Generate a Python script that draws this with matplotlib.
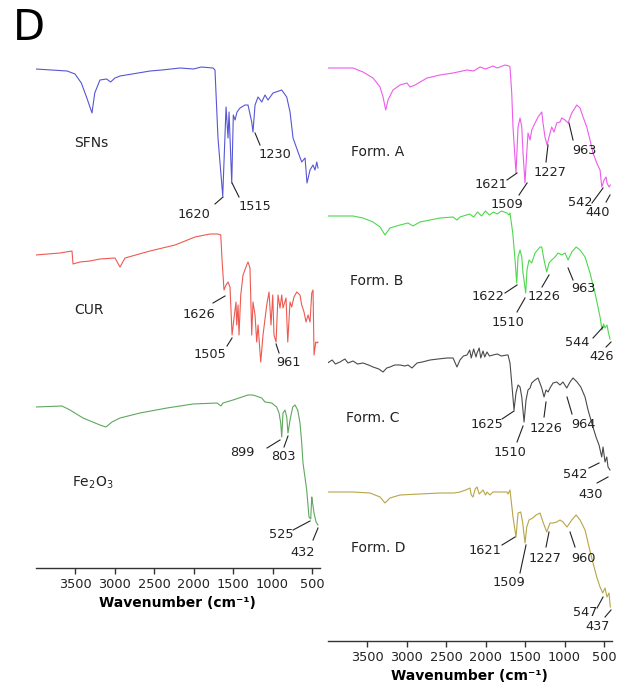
import matplotlib
matplotlib.use("Agg")
import matplotlib.pyplot as plt
import numpy as np

# FTIR spectra, (wavenumber cm-1, offset intensity a.u.)
sfns = [(4000, 499), (3800, 498), (3600, 497), (3500, 494), (3420, 485), (3350, 470), (3285, 455),
        (3250, 475), (3184, 488), (3100, 489), (3050, 486), (2994, 490), (2930, 492), (2700, 495),
        (2550, 497), (2400, 498), (2171, 500), (2000, 499), (1900, 501), (1753, 500), (1728, 498),
        (1690, 430), (1630, 372), (1588, 461), (1563, 430), (1550, 456), (1516, 385), (1496, 453),
        (1474, 448), (1449, 456), (1411, 460), (1348, 463), (1310, 463), (1263, 446), (1247, 436),
        (1221, 463), (1183, 471), (1136, 466), (1095, 473), (1057, 468), (993, 475), (883, 478),
        (820, 471), (778, 456), (740, 430), (677, 416), (630, 406), (588, 410), (563, 385),
        (525, 398), (487, 403), (462, 398), (440, 406), (424, 400)]

cur = [(4000, 313), (3690, 315), (3538, 317), (3525, 304), (3437, 306), (3310, 307), (3184, 309),
       (2994, 310), (2930, 301), (2867, 310), (2550, 317), (2234, 323), (1981, 331), (1791, 334),
       (1690, 334), (1655, 333), (1640, 310), (1614, 278), (1588, 283), (1563, 286), (1538, 281),
       (1512, 233), (1487, 250), (1462, 266), (1453, 243), (1436, 263), (1424, 233), (1402, 273),
       (1373, 293), (1326, 303), (1310, 306), (1285, 300), (1263, 233), (1247, 266), (1221, 253),
       (1200, 226), (1183, 243), (1149, 206), (1120, 233), (1073, 263), (1044, 276), (1019, 243),
       (997, 273), (981, 233), (955, 226), (930, 273), (905, 260), (883, 273), (867, 260),
       (829, 270), (807, 226), (778, 266), (757, 261), (728, 271), (693, 276), (652, 273),
       (630, 263), (601, 256), (576, 246), (550, 253), (525, 246), (503, 275), (487, 278),
       (474, 213), (453, 226), (436, 225), (424, 226)]

fe2o3 = [(4000, 161), (3665, 162), (3563, 158), (3399, 150), (3184, 143), (3108, 141), (3032, 146),
         (2930, 150), (2677, 155), (2335, 160), (2006, 164), (1702, 165), (1652, 162), (1626, 165),
         (1500, 168), (1310, 173), (1247, 173), (1136, 170), (1095, 166), (1010, 165), (947, 161),
         (917, 155), (896, 145), (883, 131), (867, 155), (842, 158), (820, 151), (804, 135),
         (778, 148), (744, 161), (715, 163), (681, 158), (652, 145), (630, 125), (614, 105),
         (567, 78), (538, 51), (516, 49), (503, 71), (493, 65), (474, 55), (449, 46), (424, 43)]

form_a = [(4000, 573), (3677, 573), (3551, 569), (3424, 563), (3335, 554), (3297, 544), (3263, 531),
          (3234, 541), (3171, 551), (3082, 556), (2994, 558), (2956, 554), (2892, 556), (2740, 563),
          (2576, 566), (2411, 568), (2234, 571), (2150, 570), (2069, 574), (2000, 572), (1905, 575),
          (1850, 573), (1753, 576), (1702, 575), (1690, 574), (1668, 548), (1652, 514), (1614, 468),
          (1588, 514), (1563, 523), (1541, 514), (1525, 488), (1500, 458), (1478, 488), (1462, 508),
          (1436, 501), (1415, 511), (1373, 518), (1335, 524), (1288, 529), (1272, 518), (1247, 504),
          (1221, 496), (1196, 504), (1162, 514), (1133, 509), (1098, 518), (1057, 519), (1035, 523),
          (993, 521), (955, 518), (908, 528), (845, 536), (803, 533), (765, 524), (718, 514),
          (677, 501), (639, 488), (592, 478), (550, 471), (528, 454), (499, 461), (474, 464),
          (462, 458), (436, 454), (420, 456)]

form_b = [(4000, 425), (3677, 425), (3551, 423), (3424, 419), (3335, 414), (3272, 406), (3209, 413),
          (3082, 416), (2981, 418), (2918, 415), (2829, 419), (2576, 423), (2411, 424), (2361, 421),
          (2323, 424), (2200, 427), (2150, 424), (2100, 429), (2050, 425), (2000, 430), (1950, 426),
          (1900, 429), (1850, 427), (1800, 430), (1728, 428), (1702, 426), (1690, 428), (1655, 408),
          (1626, 381), (1605, 358), (1588, 384), (1563, 391), (1541, 384), (1525, 368), (1491, 348),
          (1475, 371), (1449, 381), (1415, 378), (1373, 388), (1310, 394), (1288, 394), (1259, 381),
          (1225, 369), (1196, 378), (1162, 381), (1120, 384), (1082, 388), (1035, 386), (993, 388),
          (955, 381), (908, 389), (853, 394), (803, 391), (740, 384), (677, 368), (614, 348),
          (576, 334), (550, 324), (525, 311), (506, 317), (487, 313), (462, 316), (443, 308),
          (424, 302)]

form_c = [(4000, 278), (3940, 281), (3900, 277), (3842, 279), (3780, 282), (3740, 278), (3677, 280),
          (3620, 277), (3551, 278), (3480, 276), (3424, 274), (3350, 272), (3297, 269), (3250, 273),
          (3209, 274), (3150, 276), (3082, 276), (3020, 275), (2981, 276), (2930, 273), (2867, 278),
          (2800, 279), (2702, 281), (2600, 282), (2487, 283), (2411, 283), (2361, 274), (2323, 281),
          (2280, 285), (2234, 286), (2200, 291), (2180, 283), (2150, 292), (2120, 284), (2107, 288),
          (2080, 293), (2060, 283), (2031, 290), (2010, 284), (1981, 289), (1950, 285), (1905, 286),
          (1850, 287), (1800, 285), (1728, 286), (1715, 286), (1690, 278), (1668, 258), (1639, 231),
          (1614, 248), (1588, 256), (1563, 254), (1541, 244), (1512, 219), (1487, 241), (1462, 251),
          (1436, 253), (1415, 258), (1373, 261), (1335, 263), (1288, 253), (1259, 244), (1234, 251),
          (1208, 249), (1183, 253), (1145, 258), (1098, 259), (1057, 256), (1019, 259), (972, 253),
          (930, 259), (892, 263), (841, 259), (794, 254), (740, 244), (702, 231), (655, 218),
          (601, 204), (563, 196), (529, 184), (512, 194), (487, 179), (465, 184), (449, 174),
          (424, 171)]

form_d = [(4000, 149), (3677, 149), (3462, 148), (3335, 144), (3272, 138), (3209, 143), (3082, 146),
          (2829, 147), (2576, 148), (2400, 148), (2323, 149), (2250, 151), (2196, 153), (2180, 146),
          (2158, 144), (2130, 152), (2107, 154), (2080, 147), (2031, 151), (2000, 146), (1981, 149),
          (1943, 146), (1905, 149), (1728, 149), (1715, 147), (1690, 151), (1652, 124), (1614, 104),
          (1588, 128), (1554, 129), (1529, 118), (1500, 98), (1478, 114), (1449, 121), (1402, 123),
          (1360, 126), (1310, 128), (1272, 119), (1225, 109), (1183, 118), (1145, 118), (1098, 119),
          (1057, 121), (1019, 119), (968, 114), (908, 121), (853, 126), (803, 121), (740, 111),
          (689, 94), (639, 78), (592, 64), (550, 54), (516, 48), (487, 53), (462, 44), (436, 48),
          (420, 34)]

left_spectra = [(sfns, "#5656d6"), (cur, "#ee5a52"), (fe2o3, "#5ea85e")]
right_spectra = [(form_a, "#ec5cec"), (form_b, "#4ed84e"), (form_c, "#4a4a4a"), (form_d, "#b8a546")]

# sample names: (text, wn, y)
left_names = [("SFNs", 3297, 425), ("CUR", 3323, 258), ("Fe$_2$O$_3$", 3272, 85)]
right_names = [("Form. A", 3361, 489), ("Form. B", 3373, 360), ("Form. C", 3424, 223), ("Form. D", 3361, 93)]

# peak labels: (text, text wn, text y, line x1, y1, x2, y2)
left_peaks = [
    ("1620", 1994, 354, 1728, 364, 1626, 371),
    ("1515", 1221, 361, 1512, 385, 1424, 371),
    ("1230", 968, 414, 1221, 435, 1158, 423),
    ("1626", 1930, 254, 1753, 265, 1601, 272),
    ("1505", 1791, 213, 1576, 222, 1512, 230),
    ("961", 803, 205, 955, 224, 917, 215),
    ("899", 1386, 115, 1069, 120, 905, 128),
    ("803", 867, 111, 854, 121, 804, 132),
    ("525", 892, 34, 740, 38, 525, 47),
    ("432", 614, 15, 487, 28, 424, 40),
]
right_peaks = [
    ("1621", 1930, 456, 1728, 461, 1601, 468),
    ("1509", 1728, 436, 1576, 446, 1474, 458),
    ("1227", 1183, 469, 1234, 479, 1209, 496),
    ("963", 753, 491, 892, 501, 943, 518),
    ("542", 803, 439, 652, 438, 512, 453),
    ("440", 576, 429, 474, 439, 424, 446),
    ("1622", 1968, 344, 1753, 348, 1601, 356),
    ("1510", 1715, 318, 1601, 329, 1500, 343),
    ("1226", 1259, 344, 1285, 354, 1196, 366),
    ("963", 765, 352, 892, 361, 955, 373),
    ("544", 841, 298, 639, 303, 512, 314),
    ("426", 525, 284, 474, 294, 411, 299),
    ("1625", 1981, 216, 1791, 222, 1639, 230),
    ("1510", 1690, 188, 1601, 199, 1525, 215),
    ("1226", 1234, 212, 1259, 224, 1234, 239),
    ("964", 765, 216, 905, 227, 968, 244),
    ("542", 867, 166, 690, 173, 563, 178),
    ("430", 664, 147, 588, 158, 449, 164),
    ("1621", 2006, 90, 1791, 96, 1626, 104),
    ("1509", 1702, 58, 1563, 68, 1487, 96),
    ("1227", 1247, 82, 1234, 94, 1196, 109),
    ("960", 765, 83, 867, 94, 930, 109),
    ("547", 740, 28, 588, 33, 512, 44),
    ("437", 576, 15, 487, 24, 411, 31),
]

ticks = [3500, 3000, 2500, 2000, 1500, 1000, 500]

W, H = 635, 692
fig = plt.figure(figsize=(W / 100, H / 100), dpi=100)
axL = fig.add_axes([35.5 / W, 124 / H, 284.4 / W, 528 / H])
axR = fig.add_axes([327.5 / W, 51 / H, 284.4 / W, 601 / H])


def draw_panel(ax, spectra, names, peaks, ytop):
    for data, col in spectra:
        arr = np.array(data, dtype=float)
        ax.plot(arr[:, 0], arr[:, 1], color=col, lw=0.8)
    for txt, x, y in names:
        ax.text(x, y, txt, ha="center", va="center", fontsize=10, color="#222222")
    for txt, tx, ty, x1, y1, x2, y2 in peaks:
        ax.text(tx, ty, txt, ha="center", va="center", fontsize=9.3, color="#222222")
        ax.plot([x1, x2], [y1, y2], color="#222222", lw=0.8, clip_on=False)
    ax.set_xlim(4000, 400)
    ax.set_ylim(0, ytop)
    ax.set_yticks([])
    ax.set_xticks(ticks)
    for s in ["left", "right", "top"]:
        ax.spines[s].set_visible(False)
    ax.spines["bottom"].set_color("#333333")
    ax.spines["bottom"].set_linewidth(1.0)
    ax.tick_params(axis="x", direction="out", length=4, width=1, colors="#333333",
                   labelcolor="#222222", labelsize=9.3, pad=3)
    ax.set_xlabel("Wavenumber (cm⁻¹)", fontsize=10, fontweight="bold", labelpad=4)
    ax.patch.set_alpha(0)


draw_panel(axL, left_spectra, left_names, left_peaks, 528)
draw_panel(axR, right_spectra, right_names, right_peaks, 601)

fig.text(13 / W, 1 - 40 / H, "D", fontsize=30, ha="left", va="baseline")

fig.savefig("out.png", dpi=100)
